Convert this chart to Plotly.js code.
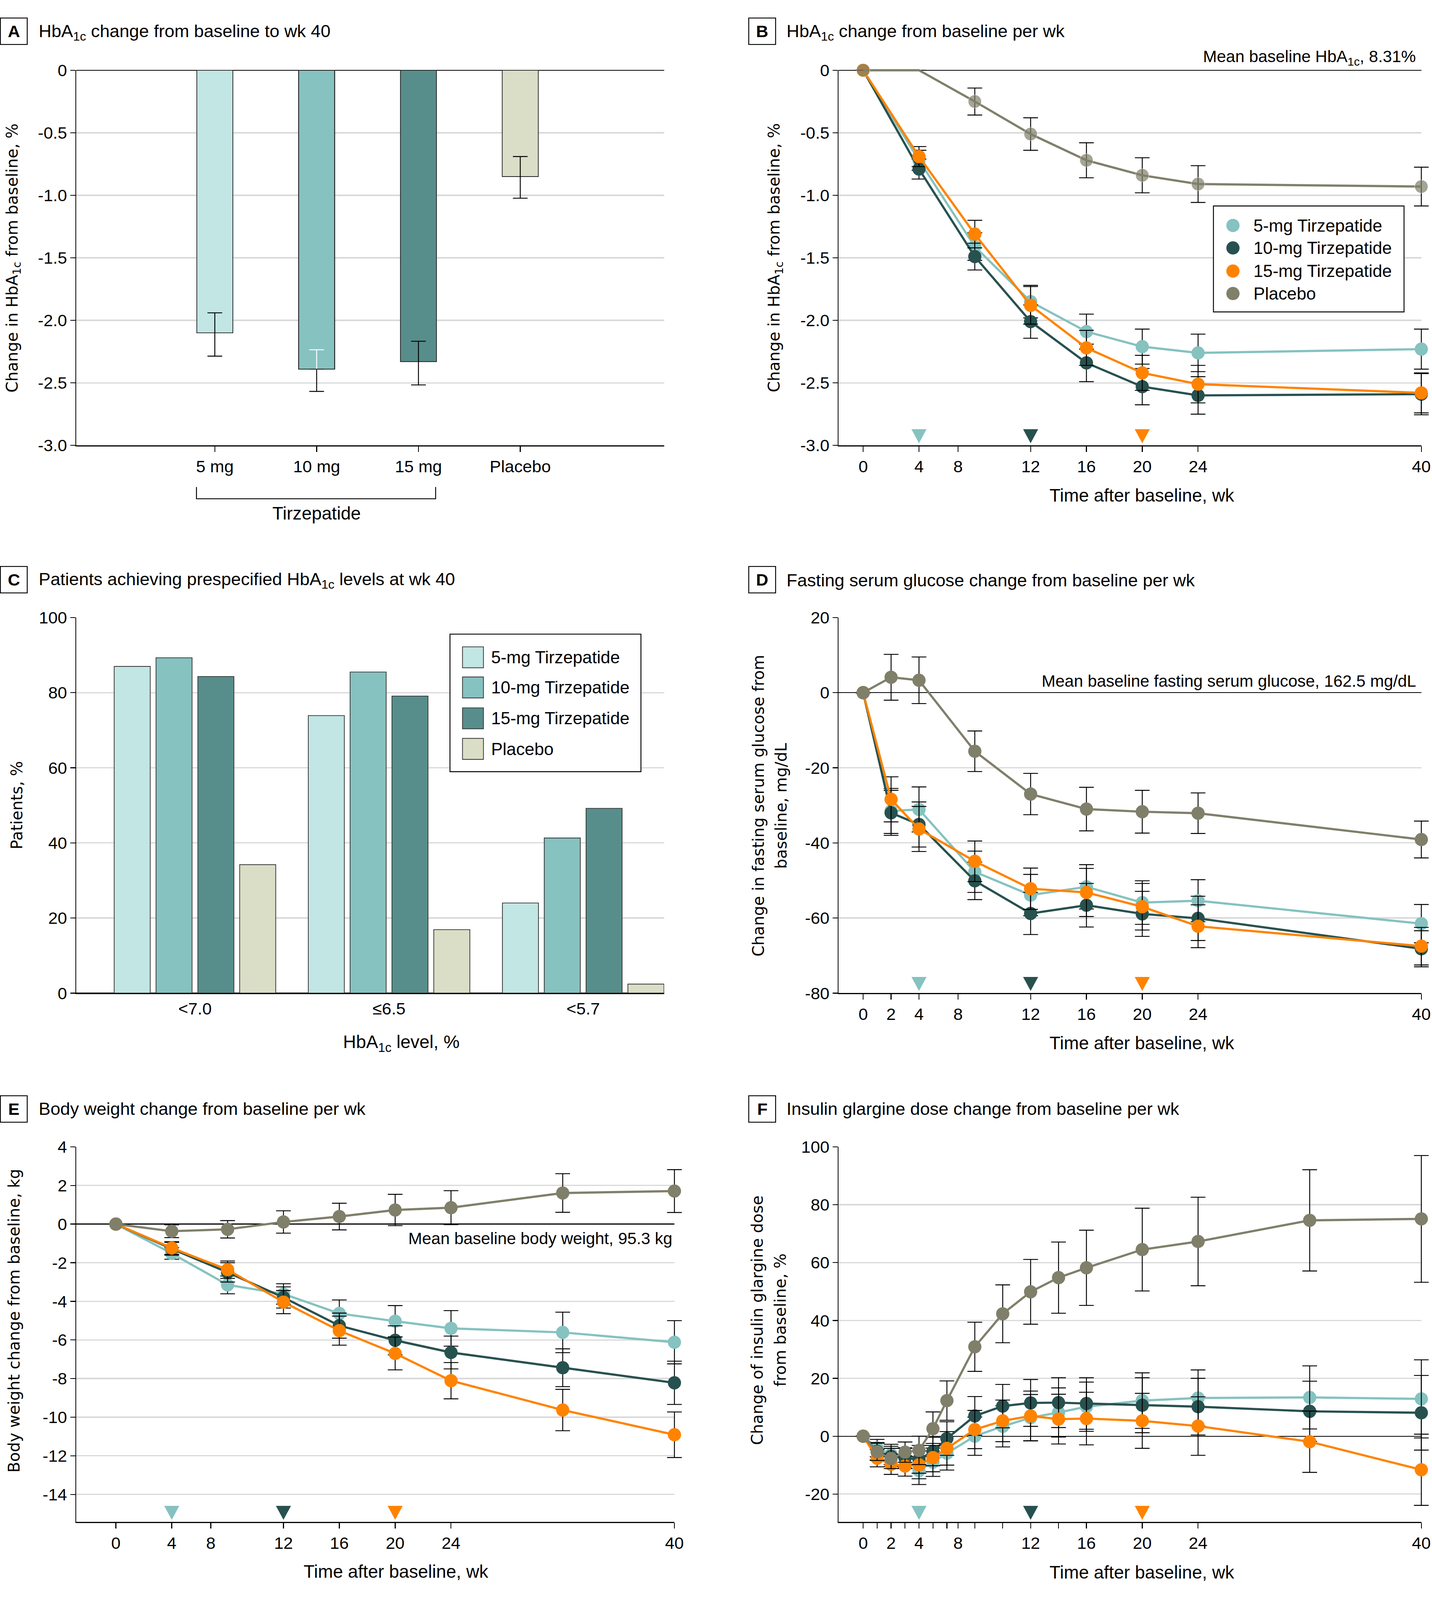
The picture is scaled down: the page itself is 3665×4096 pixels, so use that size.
<!DOCTYPE html>
<html><head><meta charset="utf-8">
<script src="https://cdn.plot.ly/plotly-3.0.1.min.js"></script>
<style>html,body{margin:0;padding:0;background:#fff;}#chart{width:3665px;height:4096px;}</style>
</head><body><div id="chart"></div>
<script>
// ---------------- data ----------------
const groups = ['5-mg Tirzepatide', '10-mg Tirzepatide', '15-mg Tirzepatide', 'Placebo'];

// Panel A: HbA1c change at wk 40
const aCategories = ['5 mg', '10 mg', '15 mg', 'Placebo'];
const aChange = [-2.10, -2.39, -2.33, -0.85];
const aErrUp = [0.16, 0.155, 0.163, 0.16];
const aErrDown = [0.186, 0.178, 0.186, 0.173];
const aYTicks = [0, -0.5, -1, -1.5, -2, -2.5, -3];
const aYTickText = ['0', '-0.5', '-1.0', '-1.5', '-2.0', '-2.5', '-3.0'];

// Panel B: HbA1c change per wk
const bWeeks = [0, 4, 8, 12, 16, 20, 24, 40];
const b5 = [0, -0.72, -1.41, -1.85, -2.09, -2.21, -2.26, -2.23];
const b10 = [0, -0.79, -1.49, -2.01, -2.34, -2.53, -2.60, -2.59];
const b15 = [0, -0.69, -1.31, -1.88, -2.22, -2.42, -2.51, -2.58];
const bPbo = [0, 0, -0.25, -0.51, -0.72, -0.84, -0.91, -0.93];
const b5Err = [null, 0.08, 0.11, 0.13, 0.14, 0.14, 0.15, 0.16];
const b10Err = [null, 0.08, 0.107, 0.133, 0.15, 0.145, 0.15, 0.165];
const b15Err = [null, 0.08, 0.11, 0.15, 0.14, 0.14, 0.15, 0.16];
const bPboErr = [null, null, 0.108, 0.13, 0.14, 0.14, 0.147, 0.155];

// Panel C: patients achieving HbA1c levels
const cLevels = ['<7.0', '≤6.5', '<5.7'];
const c5 = [87.0, 73.9, 24.0];
const c10 = [89.3, 85.5, 41.3];
const c15 = [84.3, 79.1, 49.2];
const cPbo = [34.2, 16.9, 2.4];
const cYTicks = [0, 20, 40, 60, 80, 100];
const cYTickText = ['0', '20', '40', '60', '80', '100'];

// Panel D: fasting serum glucose
const dWeeks = [0, 2, 4, 8, 12, 16, 20, 24, 40];
const d5 = [0, -31.5, -31.1, -47.7, -53.9, -51.7, -55.9, -55.4, -61.5];
const d10 = [0, -32.0, -35.1, -50.1, -58.8, -56.6, -58.9, -60.1, -68.2];
const d15 = [0, -28.4, -36.3, -44.9, -52.2, -53.2, -57.0, -62.2, -67.5];
const dPbo = [0, 4.1, 3.3, -15.6, -27.0, -31.0, -31.7, -32.1, -39.1];
const d5Err = [null, 6.0, 6.0, 5.5, 5.5, 5.9, 5.8, 5.6, 5.1];
const d10Err = [null, 6.0, 6.0, 5.0, 5.6, 5.8, 6.0, 5.9, 4.8];
const d15Err = [null, 6.0, 6.0, 5.4, 5.5, 6.4, 6.2, 5.7, 5.0];
const dPboErr = [null, 6.1, 6.2, 5.4, 5.5, 5.8, 5.7, 5.4, 4.9];
const dYTicks = [20, 0, -20, -40, -60, -80];
const dYTickText = ['20', '0', '-20', '-40', '-60', '-80'];

// Panel E: body weight
const eWeeks = [0, 4, 8, 12, 16, 20, 24, 32, 40];
const e5 = [0, -1.52, -3.15, -3.62, -4.63, -5.03, -5.40, -5.61, -6.12];
const e10 = [0, -1.28, -2.50, -3.80, -5.26, -6.02, -6.65, -7.44, -8.22];
const e15 = [0, -1.24, -2.36, -4.04, -5.52, -6.70, -8.11, -9.63, -10.91];
const ePbo = [0, -0.37, -0.27, 0.11, 0.39, 0.73, 0.85, 1.61, 1.71];
const e5Err = [null, 0.30, 0.46, 0.53, 0.70, 0.81, 0.92, 1.05, 1.12];
const e10Err = [null, 0.33, 0.50, 0.55, 0.65, 0.75, 0.85, 0.98, 1.12];
const e15Err = [null, 0.33, 0.45, 0.60, 0.75, 0.85, 0.94, 1.07, 1.18];
const ePboErr = [null, 0.33, 0.45, 0.58, 0.69, 0.81, 0.88, 1.00, 1.11];
const eYTicks = [4, 2, 0, -2, -4, -6, -8, -10, -12, -14];
const eYTickText = ['4', '2', '0', '-2', '-4', '-6', '-8', '-10', '-12', '-14'];

// Panel F: insulin glargine dose
const fWeeks = [0, 1, 2, 3, 4, 5, 6, 8, 10, 12, 14, 16, 20, 24, 32, 40];
const f5 = [0, -4.1, -6.3, -7.7, -11.9, -9.0, -5.9, 0.0, 3.4, 6.4, 8.2, 10.2, 12.3, 13.2, 13.4, 12.9];
const f10 = [0, -5.2, -7.0, -7.5, -8.0, -5.3, -0.8, 7.0, 10.4, 11.5, 11.6, 11.3, 10.7, 10.2, 8.6, 8.1];
const f15 = [0, -7.6, -9.7, -10.3, -9.9, -7.4, -4.2, 2.3, 5.3, 7.0, 5.9, 6.1, 5.3, 3.5, -1.9, -11.6];
const fPbo = [0, -5.4, -7.7, -5.5, -4.9, 2.6, 12.3, 30.9, 42.3, 49.9, 54.8, 58.2, 64.5, 67.3, 74.6, 75.1];
const f5Err = [null, 3.0, 3.5, 3.5, 4.8, 4.9, 5.8, 6.6, 7.1, 8.0, 8.5, 8.5, 9.6, 9.7, 10.9, 13.5];
const f10Err = [null, 3.0, 3.5, 3.5, 4.8, 4.9, 5.8, 6.7, 7.5, 8.1, 8.6, 8.9, 9.5, 9.8, 10.4, 12.9];
const f15Err = [null, 3.0, 3.5, 3.5, 4.8, 4.9, 5.8, 6.6, 7.2, 8.6, 8.6, 9.1, 9.5, 10.1, 10.6, 12.3];
const fPboErr = [null, 3.0, 3.5, 3.5, 4.9, 5.8, 6.8, 8.5, 10.0, 11.2, 12.3, 13.0, 14.3, 15.3, 17.5, 21.9];
const fYTicks = [100, 80, 60, 40, 20, 0, -20];
const fYTickText = ['100', '80', '60', '40', '20', '0', '-20'];

// week axes (the "8" label sits left of wk 8, as in the source figure)
const wkTickVals = [0, 4, 6.8, 12, 16, 20, 24, 40];
const wkTickText = ['0', '4', '8', '12', '16', '20', '24', '40'];
const dTickVals = [0, 2, 4, 6.8, 12, 16, 20, 24, 40];
const dTickText = ['0', '2', '4', '8', '12', '16', '20', '24', '40'];
const fTickVals = [0, 2, 4, 6.8, 12, 16, 20, 24, 40];
const fTickText = ['0', '2', '4', '8', '12', '16', '20', '24', '40'];
const fMinorTicks = [1, 3, 5, 6, 8, 10, 14];

// weeks at which each dose reached maintenance (triangle markers)
const doseWeeks = [4, 12, 20];

// ---------------- style ----------------
const S = 3665 / 3892;
const W = 3892, H = 4350;
const fx = p => p / W, fy = p => 1 - p / H;
const CF = '"Liberation Sans", Arial, sans-serif';
const WF = '"DejaVu Sans", Verdana, sans-serif';
const lineCols = ['#85c2c0', '#27514f', '#ff8300', '#807f6a'];
const barCols = ['#c1e6e4', '#86c2c0', '#578e8b', '#dbdec7'];
const MS = 36 * S, LW = 6 * S;

const axisBase = {
  showline: true, linecolor: '#000', linewidth: 2.5 * S,
  ticks: 'outside', ticklen: 15 * S, tickwidth: 2.5 * S, tickcolor: '#000',
  tickfont: { family: CF, size: 46 * S, color: '#000' }, fixedrange: true
};
function xA(p0, p1, anchor, extra) {
  return Object.assign({}, axisBase, { domain: [fx(p0), fx(p1)], anchor: anchor, showgrid: false, zeroline: false, ticklabelstandoff: 10 * S }, extra);
}
function yA(p0, p1, anchor, extra) {
  return Object.assign({}, axisBase, { domain: [fy(p1), fy(p0)], anchor: anchor, showgrid: true, gridcolor: '#d9d9d9', gridwidth: 3.5 * S,
    zeroline: true, zerolinecolor: '#000', zerolinewidth: 2.5 * S, ticklen: 13 * S, ticklabelstandoff: 10 * S }, extra);
}

function lineTrace(ax, weeks, vals, errs, color, sizes) {
  return {
    type: 'scatter', mode: 'lines+markers', x: weeks, y: vals, xaxis: 'x' + ax, yaxis: 'y' + ax,
    line: { color: color, width: LW }, marker: { color: color, size: sizes || MS },
    error_y: { type: 'data', array: errs, symmetric: true, visible: true, color: '#000', thickness: 2.5 * S, width: 20 * S },
    cliponaxis: false, showlegend: false, hoverinfo: 'skip'
  };
}

const traces = [];
// Panel A
const idx10 = aCategories.indexOf('10 mg');
traces.push({
  type: 'bar', x: aCategories, y: aChange, xaxis: 'x', yaxis: 'y', width: 0.354, offsetgroup: 'a',
  marker: { color: barCols, line: { color: '#222', width: 2 * S } },
  error_y: { type: 'data', symmetric: false, array: aErrUp.map((v, i) => i === idx10 ? 0 : v), arrayminus: aErrDown,
    color: '#000', thickness: 2.5 * S, width: 20 * S },
  showlegend: false, hoverinfo: 'skip'
});
traces.push({
  type: 'bar', x: [aCategories[idx10]], y: [aChange[idx10]], xaxis: 'x', yaxis: 'y', width: 0.354, offsetgroup: 'a',
  marker: { color: 'rgba(0,0,0,0)', line: { width: 0 } },
  error_y: { type: 'data', symmetric: false, array: [aErrUp[idx10]], arrayminus: [0], color: '#fff', thickness: 2.5 * S, width: 20 * S },
  showlegend: false, hoverinfo: 'skip'
});
traces.push({
  type: 'bar', x: [aCategories[idx10]], y: [aChange[idx10]], xaxis: 'x', yaxis: 'y', width: 0.354, offsetgroup: 'a',
  marker: { color: 'rgba(0,0,0,0)', line: { color: '#222', width: 2 * S } }, showlegend: false, hoverinfo: 'skip'
});
// Panel B
const bSizes = bWeeks.map((w, i) => (w > 0 && bPbo[i] === 0) ? 0 : MS);
traces.push(lineTrace(2, bWeeks, b5, b5Err, lineCols[0]));
traces.push(lineTrace(2, bWeeks, b10, b10Err, lineCols[1]));
traces.push(lineTrace(2, bWeeks, b15, b15Err, lineCols[2]));
traces.push(lineTrace(2, bWeeks, bPbo, bPboErr, lineCols[3], bSizes));
// Panel C
[c5, c10, c15, cPbo].forEach((vals, i) => traces.push({
  type: 'bar', name: groups[i], x: cLevels, y: vals, xaxis: 'x3', yaxis: 'y3',
  marker: { color: barCols[i], line: { color: '#333', width: 2 * S } }, showlegend: false, hoverinfo: 'skip'
}));
// Panel D
traces.push(lineTrace(4, dWeeks, d5, d5Err, lineCols[0]));
traces.push(lineTrace(4, dWeeks, d10, d10Err, lineCols[1]));
traces.push(lineTrace(4, dWeeks, d15, d15Err, lineCols[2]));
traces.push(lineTrace(4, dWeeks, dPbo, dPboErr, lineCols[3]));
// Panel E
traces.push(lineTrace(5, eWeeks, e5, e5Err, lineCols[0]));
traces.push(lineTrace(5, eWeeks, e10, e10Err, lineCols[1]));
traces.push(lineTrace(5, eWeeks, e15, e15Err, lineCols[2]));
traces.push(lineTrace(5, eWeeks, ePbo, ePboErr, lineCols[3]));
// Panel F
traces.push(lineTrace(6, fWeeks, f5, f5Err, lineCols[0]));
traces.push(lineTrace(6, fWeeks, f10, f10Err, lineCols[1]));
traces.push(lineTrace(6, fWeeks, f15, f15Err, lineCols[2]));
traces.push(lineTrace(6, fWeeks, fPbo, fPboErr, lineCols[3]));

// ---------------- layout ----------------
const shapes = [];
const annotations = [];
function ann(text, px, py, o) {
  return Object.assign({ xref: 'paper', yref: 'paper', x: fx(px), y: fy(py), text: text, showarrow: false,
    xanchor: 'left', yanchor: 'middle', font: { family: CF, size: 46 * S, color: '#000' } }, o || {});
}
function rect(x0, y0, x1, y1, o) {
  return Object.assign({ type: 'rect', xref: 'paper', yref: 'paper', x0: fx(x0), x1: fx(x1), y0: fy(y1), y1: fy(y0),
    line: { color: '#000', width: 2.5 * S }, fillcolor: 'rgba(0,0,0,0)' }, o || {});
}

// panel letters + titles
const panels = [
  { L: 'A', bx: 0, by: 49, tx: 103, ty: 88, t: 'HbA<sub>1c</sub> change from baseline to wk 40' },
  { L: 'B', bx: 2034, by: 49, tx: 2136, ty: 88, t: 'HbA<sub>1c</sub> change from baseline per wk' },
  { L: 'C', bx: 0, by: 1540, tx: 103, ty: 1578, t: 'Patients achieving prespecified HbA<sub>1c</sub> levels at wk 40' },
  { L: 'D', bx: 2034, by: 1540, tx: 2136, ty: 1578, t: 'Fasting serum glucose change from baseline per wk' },
  { L: 'E', bx: 0, by: 2979, tx: 103, ty: 3015, t: 'Body weight change from baseline per wk' },
  { L: 'F', bx: 2034, by: 2979, tx: 2136, ty: 3015, t: 'Insulin glargine dose change from baseline per wk' }
];
panels.forEach(p => {
  shapes.push(rect(p.bx + 1, p.by, p.bx + 74, p.by + 72));
  annotations.push(ann('<b>' + p.L + '</b>', p.bx + 37.5, p.by + 36, { xanchor: 'center', font: { family: CF, size: 46 * S, color: '#000' } }));
  annotations.push(ann(p.t, p.tx, p.ty, { font: { family: CF, size: 48 * S, color: '#000' } }));
});

// y-axis titles
const yt = (text, px, py) => ann(text, px, py, { xanchor: 'center', textangle: -90, font: { family: WF, size: 43 * S, color: '#000' } });
annotations.push(yt('Change in HbA<sub>1c</sub> from baseline, %', 36, 701));
annotations.push(yt('Change in HbA<sub>1c</sub> from baseline, %', 2107, 701));
annotations.push(yt('Patients, %', 46, 2189));
annotations.push(yt('Change in fasting serum glucose from', 2061, 2191));
annotations.push(yt('baseline, mg/dL', 2123, 2191));
annotations.push(yt('Body weight change from baseline, kg', 39, 3591));
annotations.push(yt('Change of insulin glargine dose', 2059, 3589));
annotations.push(yt('from baseline, %', 2121, 3589));

// x-axis titles
const xt = (text, px, py) => ann(text, px, py, { xanchor: 'center', font: { family: CF, size: 49 * S, color: '#000' } });
annotations.push(xt('Tirzepatide', 860, 1395));
annotations.push(xt('Time after baseline, wk', 3104, 1347));
annotations.push(xt('HbA<sub>1c</sub> level, %', 1091, 2836));
annotations.push(xt('Time after baseline, wk', 3104, 2836));
annotations.push(xt('Time after baseline, wk', 1076, 4273));
annotations.push(xt('Time after baseline, wk', 3104, 4275));

// bracket under A doses
shapes.push({ type: 'path', xref: 'paper', yref: 'paper',
  path: `M${fx(534)},${fy(1324)} L${fx(534)},${fy(1356)} L${fx(1184)},${fy(1356)} L${fx(1184)},${fy(1324)}`,
  line: { color: '#000', width: 2.5 * S } });

// reference notes
annotations.push(ann('Mean baseline HbA<sub>1c</sub>, 8.31%', 3851, 157, { xanchor: 'right', font: { family: CF, size: 45 * S, color: '#000' } }));
annotations.push(ann('Mean baseline fasting serum glucose, 162.5 mg/dL', 3851, 1852, { xanchor: 'right', font: { family: CF, size: 45 * S, color: '#000' } }));
annotations.push(ann('Mean baseline body weight, 95.3 kg', 1830, 3367, { xanchor: 'right', font: { family: CF, size: 45 * S, color: '#000' } }));

// legend B (markers)
shapes.push(rect(3298, 560, 3816, 848, { fillcolor: '#fff' }));
const legBY = [613, 674, 737, 798];
groups.forEach((g, i) => {
  shapes.push({ type: 'circle', xref: 'paper', yref: 'paper', x0: fx(3351 - 18), x1: fx(3351 + 18), y0: fy(legBY[i] + 18), y1: fy(legBY[i] - 18),
    fillcolor: lineCols[i], line: { width: 0 } });
  annotations.push(ann(g, 3405, legBY[i], { font: { family: CF, size: 47 * S, color: '#000' } }));
});
// legend C (swatches)
shapes.push(rect(1223, 1724, 1742, 2098, { fillcolor: '#fff' }));
const legCY = [1787, 1869, 1953, 2036];
groups.forEach((g, i) => {
  shapes.push(rect(1257, legCY[i] - 28.5, 1314, legCY[i] + 28.5, { fillcolor: barCols[i], line: { color: '#333', width: 2 * S } }));
  annotations.push(ann(g, 1333, legCY[i], { font: { family: CF, size: 47 * S, color: '#000' } }));
});

// maintenance-dose triangles
[2, 4, 5, 6].forEach(ax => {
  doseWeeks.forEach((w, i) => {
    shapes.push({ type: 'path', xref: 'x' + ax, yref: 'y' + ax + ' domain', xsizemode: 'pixel', ysizemode: 'pixel',
      xanchor: w, yanchor: 0,
      path: `M${-20.5 * S},${44 * S} L${20.5 * S},${44 * S} L0,${6 * S} Z`,
      fillcolor: lineCols[i], line: { width: 0 } });
  });
});

const layout = {
  width: 3665, height: 4096, margin: { l: 0, r: 0, t: 0, b: 0 },
  paper_bgcolor: '#fff', plot_bgcolor: 'rgba(0,0,0,0)', hovermode: false,
  font: { family: CF, size: 46 * S, color: '#000' }, showlegend: false,
  barmode: 'group', bargap: 0.138, bargroupgap: 0.138,
  xaxis: xA(207, 1805, 'y', { type: 'category', range: [-1.362, 4.413] }),
  yaxis: yA(191, 1211, 'x', { range: [-3, 0], tickvals: aYTicks, ticktext: aYTickText }),
  xaxis2: xA(2279, 3863, 'y2', { range: [-1.767, 40], tickvals: wkTickVals, ticktext: wkTickText }),
  yaxis2: yA(191, 1211, 'x2', { range: [-3, 0], tickvals: aYTicks, ticktext: aYTickText }),
  xaxis3: xA(207, 1805, 'y3', { type: 'category', range: [-0.612, 2.417], ticks: '' }),
  yaxis3: yA(1679, 2700, 'x3', { range: [0, 100], tickvals: cYTicks, ticktext: cYTickText }),
  xaxis4: xA(2279, 3863, 'y4', { range: [-1.767, 40], tickvals: dTickVals, ticktext: dTickText }),
  yaxis4: yA(1679, 2700, 'x4', { range: [-80, 20], tickvals: dYTicks, ticktext: dYTickText }),
  xaxis5: xA(207, 1833, 'y5', { range: [-2.846, 40], tickvals: wkTickVals, ticktext: wkTickText }),
  yaxis5: yA(3118, 4138, 'x5', { range: [-15.43, 4], tickvals: eYTicks, ticktext: eYTickText }),
  xaxis6: xA(2279, 3863, 'y6', { range: [-1.767, 40], tickvals: fTickVals, ticktext: fTickText,
    minor: { tickvals: fMinorTicks, ticks: 'outside', ticklen: 15 * S, tickwidth: 2.5 * S, tickcolor: '#000', showgrid: false } }),
  yaxis6: yA(3118, 4138, 'x6', { range: [-29.66, 100], tickvals: fYTicks, ticktext: fYTickText }),
  shapes: shapes, annotations: annotations
};

function unclipErrorBars(gd) {
  // let error-bar caps at the last week extend past the plot edge, as in the source
  gd.querySelectorAll('.scatterlayer, .scatterlayer *').forEach(el => el.removeAttribute('clip-path'));
  gd.querySelectorAll('.scatterlayer').forEach(layer => {
    let n = layer.parentNode;
    while (n && n !== gd && n.removeAttribute) {
      n.removeAttribute('clip-path');
      if (n.classList && n.classList.contains('cartesianlayer')) break;
      n = n.parentNode;
    }
  });
}
Plotly.newPlot('chart', traces, layout, { staticPlot: true, displayModeBar: false }).then(unclipErrorBars);
</script></body></html>
